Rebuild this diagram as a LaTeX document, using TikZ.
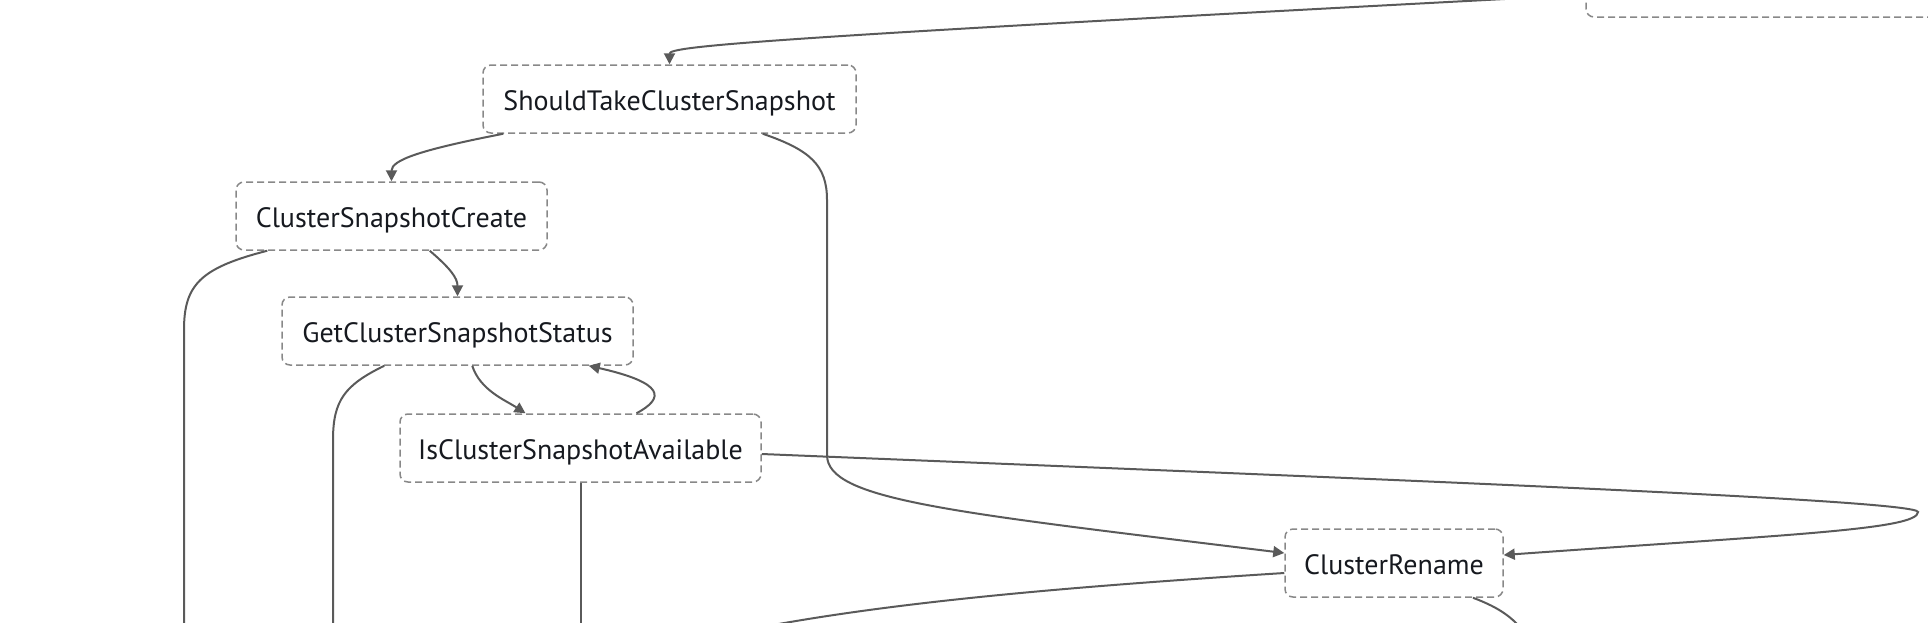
\documentclass[tikz,border=0pt]{standalone}
\usepackage{fontspec}
\setmainfont{PT Sans}
\usetikzlibrary{arrows.meta, positioning}

\definecolor{edgegray}{HTML}{5A5A5A}
\definecolor{boxgray}{HTML}{888888}
\definecolor{textblack}{HTML}{16191F}

\begin{document}
\begin{tikzpicture}[x=1pt,y=-1pt,
    state/.style={draw=boxgray, dash pattern=on 7pt off 4pt, line width=1.5pt, rounded corners=8pt,
                  minimum height=68pt, inner sep=0pt, text height=23pt, text depth=0pt,
                  text=textblack, font=\fontsize{28}{33}\selectfont},
    flow/.style={color=edgegray, line width=2pt, arrows = {-Triangle[width=11pt,length=11pt]}},
    loose/.style={color=edgegray, line width=2pt}]
            \useasboundingbox (0,0) rectangle (1928,622);
            \clip (0,0) rectangle (1928,622);

            \foreach \n/\x/\y/\w/\t in {stcs/669.5/99/373/ShouldTakeClusterSnapshot,
                                        csc/391.5/216/311/ClusterSnapshotCreate,
                                        gcss/457.5/331/351/GetClusterSnapshotStatus,
                                        icsa/580.5/448/361/IsClusterSnapshotAvailable,
                                        cr/1394/563/218/ClusterRename}
            {
                \node[state, minimum width=\w] (\n) at (\x,\y) {\t};
            }
            % cut off at the top right
            \node[state, minimum width=420] (prev) at (1796,-17) {};

            \coordinate (above) at (1600,-6);
            \coordinate (cscout) at (184,640);
            \coordinate (gcssout) at (333,640);
            \coordinate (icsaout) at (580.5,640);
            \coordinate (crleft) at (700,640);
            \coordinate (crright) at (1530,640);
            %%%%%%%%%%%%%%%%%%%%%%%%%%%%%%%%%%%%%%%%%%%%%%%%%%%%%%%%%%%%%
            \draw[flow] (above) .. controls (760,38) and (669.5,46) .. (stcs.north);
            \draw[flow] ([xshift=21pt]stcs.south west) .. controls (420,150) and (391.5,160) .. (csc.north);
            \draw[flow] ([xshift=-94pt]stcs.south east) .. controls (810,150) and (827,165) .. (827,200)
                -- (827,455) .. controls (827,500) and (950,512) .. ([yshift=10pt]cr.west);

            \draw[flow] ([xshift=-118pt]csc.south east) .. controls (450,268) and (457.5,278) .. (gcss.north);
            \draw[loose] ([xshift=32pt]csc.south west) .. controls (200,268) and (184,285) .. (184,330) -- (cscout);

            \draw[loose] ([xshift=103pt]gcss.south west) .. controls (345,385) and (333,400) .. (333,440) -- (gcssout);
            \draw[flow] ([xshift=191pt]gcss.south west) .. controls (480,390) and (505,400) .. ([xshift=-55pt]icsa.north);
            \draw[flow] ([xshift=56pt]icsa.north) .. controls (665,398) and (665,383) .. ([xshift=-45pt]gcss.south east);

            \draw[loose] (icsa.south) -- (icsaout);
            \draw[flow] ([yshift=-6pt]icsa.east) .. controls (1400,480) and (1918,500) .. (1918,512)
                .. controls (1918,530) and (1780,535) .. ([yshift=8pt]cr.east);

            \draw[loose] ([yshift=-10pt]cr.west) .. controls (1050,588) and (850,605) .. (crleft);
            \draw[loose] ([xshift=79pt]cr.south) .. controls (1500,608) and (1515,618) .. (crright);

\end{tikzpicture}
\end{document}
